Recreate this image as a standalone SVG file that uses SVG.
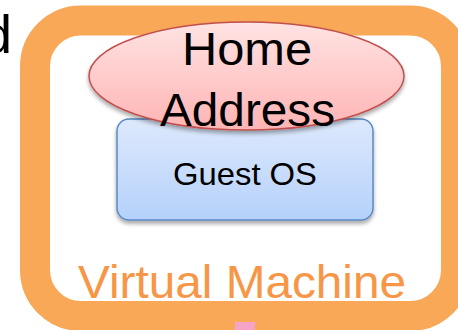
<svg xmlns="http://www.w3.org/2000/svg" width="458" height="330" viewBox="0 0 458 330">
<defs>
<linearGradient id="pinkG" x1="0" y1="0" x2="0" y2="1">
<stop offset="0" stop-color="#FFE3E3"/>
<stop offset="1" stop-color="#FFB4B4"/>
</linearGradient>
<linearGradient id="blueG" x1="0" y1="0" x2="0" y2="1">
<stop offset="0" stop-color="#DDE9FC"/>
<stop offset="1" stop-color="#B5D1FA"/>
</linearGradient>
<filter id="sh" x="-10%" y="-10%" width="120%" height="130%">
<feGaussianBlur in="SourceAlpha" stdDeviation="2"/>
<feOffset dx="0" dy="3" result="b"/>
<feComponentTransfer><feFuncA type="linear" slope="0.35"/></feComponentTransfer>
<feMerge><feMergeNode/><feMergeNode in="SourceGraphic"/></feMerge>
</filter>
<style>
.lbl{font-family:"Liberation Sans",Arial,sans-serif;fill:#000;text-anchor:middle}
</style>
</defs>
<rect width="458" height="330" fill="#fff"/>
<text x="12" y="53" font-family="Liberation Sans, Arial, sans-serif" font-size="54" text-anchor="end" fill="#000">d</text>
<g id="vm">
<rect x="35" y="20.5" width="421" height="295.5" rx="46" ry="46" fill="none" stroke="#F9A857" stroke-width="30"/>
<text x="242" y="298" font-family="Liberation Sans, Arial, sans-serif" font-size="46" fill="#F79646" text-anchor="middle" textLength="328" lengthAdjust="spacingAndGlyphs">Virtual Machine</text>
</g>
<g id="pink-bit">
<rect x="235" y="322" width="20" height="8" fill="#F5A3C7"/>
</g>
<g id="guest-os">
<rect x="117" y="119" width="256" height="101" rx="12" ry="12" fill="url(#blueG)" stroke="#5A8AC6" stroke-width="1.5" filter="url(#sh)"/>
<text class="lbl" x="245" y="185" font-size="32" textLength="144" lengthAdjust="spacingAndGlyphs">Guest OS</text>
</g>
<g id="home-address">
<ellipse cx="246.5" cy="76" rx="157.5" ry="54" fill="url(#pinkG)" stroke="#C0504D" stroke-width="1.5" filter="url(#sh)"/>
<text class="lbl" x="247" y="65" font-size="46" textLength="130" lengthAdjust="spacingAndGlyphs">Home</text>
<text class="lbl" x="247.5" y="126" font-size="46" textLength="175" lengthAdjust="spacingAndGlyphs">Address</text>
</g>
<g id="connectors"/>
</svg>
